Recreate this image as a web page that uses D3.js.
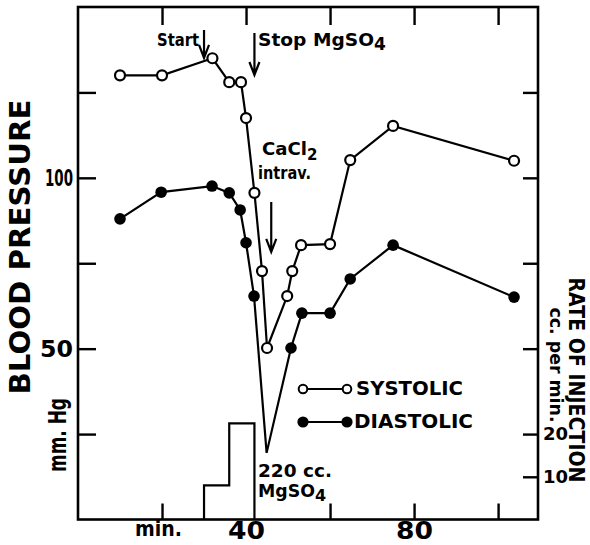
<!DOCTYPE html>
<html>
<head>
<meta charset="utf-8">
<script src="https://cdn.jsdelivr.net/npm/d3@7"></script>
<style>
body { margin: 0; background: #fff; }
text { font-family: "DejaVu Sans", sans-serif; font-weight: bold; fill: #000; }
</style>
</head>
<body>
<div id="chart-area"></div>
<script>
// data (time in min, pressure in mm Hg)
const systolicTime  = [10, 20, 32, 36, 38.8, 40, 42, 43.8, 45, 49.8, 51, 53.1, 60, 64.8, 75, 103.8];
const systolicValue = [130, 130, 135, 128, 128, 117.5, 95.6, 72.7, 50.2, 65.4, 72.7, 80.3, 80.6, 105.2, 115.2, 105];

const diastolicTime  = [10, 19.8, 31.9, 36, 38.6, 40, 41.9, 44.9, 50.7, 53.3, 60, 64.8, 75, 103.8];
const diastolicValue = [88, 95.8, 97.6, 95.6, 90.6, 81, 65.4, 19.5, 50.2, 60.4, 60.4, 70.4, 80.3, 65.1];
const diastolicNoDot = [44.9];   // bottom of the dip has no marker

// injection rate, cc per min
const injectionStart = [30, 36];
const injectionEnd   = [36, 42];
const injectionRate  = [8, 22.5];

const bpTicks = [25, 50, 75, 100, 125];
const bpLabels = [50, 100];
const timeTicks = [20, 40, 60, 80, 100];
const timeLabels = {20: "min.", 40: "40", 60: "", 80: "80", 100: ""};
const rateTicks = [10, 20, 40, 60, 80, 100];
const rateLabels = [10, 20];

let width = 590,
	height = 545;

let svg = d3.select("#chart-area")
	.append("svg")
	.attr("width", width)
	.attr("height", height);

let xScale = d3.scaleLinear().domain([0, 109.5]).range([78, 538]);
let yScale = d3.scaleLinear().domain([0, 150]).range([519.5, 7]);
let rateScale = d3.scaleLinear().domain([0, 120]).range([519.5, 7]);

// frame
svg.append("rect")
	.attr("x", xScale(0))
	.attr("y", yScale(150))
	.attr("width", xScale(109.5) - xScale(0))
	.attr("height", yScale(0) - yScale(150))
	.attr("fill", "none")
	.attr("stroke", "#000")
	.attr("stroke-width", 2.6);

function styleAxis(g, size) {
	g.select(".domain").remove();
	g.selectAll(".tick line").attr("stroke", "#000").attr("stroke-width", 2.4);
	g.selectAll("text").attr("font-size", size);
}

// left axis
let leftAxis = svg.append("g")
	.attr("transform", "translate(" + xScale(0) + ",0)")
	.call(d3.axisLeft(yScale).tickValues(bpTicks).tickSize(-18).tickPadding(5)
		.tickFormat(d => bpLabels.includes(d) ? d : ""));
styleAxis(leftAxis, 23);
leftAxis.selectAll("text")
	.filter(d => bpLabels.includes(d))
	.attr("textLength", d => d == 100 ? 28 : 33)
	.attr("lengthAdjust", "spacingAndGlyphs");

// top ticks
let topAxis = svg.append("g")
	.attr("transform", "translate(0," + yScale(150) + ")")
	.call(d3.axisTop(xScale).tickValues(timeTicks).tickSize(-18).tickFormat(""));
styleAxis(topAxis, 10);

// bottom axis
let bottomAxis = svg.append("g")
	.attr("transform", "translate(0," + yScale(0) + ")")
	.call(d3.axisBottom(xScale).tickValues(timeTicks).tickSize(-16).tickPadding(2)
		.tickFormat(d => timeLabels[d]));
styleAxis(bottomAxis, 25);
bottomAxis.selectAll(".tick").filter(d => d == 40).select("line").remove();
bottomAxis.selectAll("text").filter(d => d == 40 || d == 80)
	.attr("textLength", 37)
	.attr("lengthAdjust", "spacingAndGlyphs");
bottomAxis.selectAll("text").filter(d => d == 20)
	.attr("font-size", 21)
	.attr("x", -4)
	.attr("dy", "0.68em")
	.attr("textLength", 47)
	.attr("lengthAdjust", "spacingAndGlyphs");

// right axis (rate of injection)
let rightAxis = svg.append("g")
	.attr("transform", "translate(" + xScale(109.5) + ",0)")
	.call(d3.axisRight(rateScale).tickValues(rateTicks).tickSize(-15).tickPadding(5)
		.tickFormat(d => rateLabels.includes(d) ? d : ""));
styleAxis(rightAxis, 18);

// injection histogram
let steps = [];
injectionRate.forEach((r, i) => {
	steps.push([injectionStart[i], i == 0 ? 0 : injectionRate[i - 1]]);
	steps.push([injectionStart[i], r]);
	steps.push([injectionEnd[i], r]);
});
steps.push([injectionEnd[injectionEnd.length - 1], 0]);

svg.append("path")
	.attr("d", d3.line().x(d => xScale(d[0])).y(d => rateScale(d[1]))(steps))
	.attr("fill", "none")
	.attr("stroke", "#000")
	.attr("stroke-width", 2.2);

// series
let systolic = systolicTime.map((t, i) => ({t: t, v: systolicValue[i]}));
let diastolic = diastolicTime.map((t, i) => ({t: t, v: diastolicValue[i]}));

let line = d3.line().x(d => xScale(d.t)).y(d => yScale(d.v));

[systolic, diastolic].forEach(s => {
	svg.append("path")
		.attr("d", line(s))
		.attr("fill", "none")
		.attr("stroke", "#000")
		.attr("stroke-width", 2.2);
});

svg.selectAll("circle.dia")
	.data(diastolic.filter(d => !diastolicNoDot.includes(d.t)))
	.enter()
	.append("circle")
	.attr("class", "dia")
	.attr("r", 5.8)
	.attr("cx", d => xScale(d.t))
	.attr("cy", d => yScale(d.v))
	.attr("fill", "#000");

svg.selectAll("circle.sys")
	.data(systolic)
	.enter()
	.append("circle")
	.attr("class", "sys")
	.attr("r", 5)
	.attr("cx", d => xScale(d.t))
	.attr("cy", d => yScale(d.v))
	.attr("fill", "#fff")
	.attr("stroke", "#000")
	.attr("stroke-width", 2.2);

// arrows
const arrows = [
	{t: 30, from: 143.3, to: 135.1},
	{t: 42, from: 142.4, to: 130.1},
	{t: 46, from: 92.9, to: 78.3}
];
arrows.forEach(a => {
	let ax = xScale(a.t), y1 = yScale(a.from), y2 = yScale(a.to);
	svg.append("path")
		.attr("d", "M" + ax + "," + y1 + "V" + y2 + "M" + (ax - 5) + "," + (y2 - 13) + "L" + ax + "," + y2 + "L" + (ax + 5) + "," + (y2 - 13))
		.attr("fill", "none")
		.attr("stroke", "#000")
		.attr("stroke-width", 2.2);
});

// labels
function label(txt, x, y, size, len) {
	let t = svg.append("text").attr("x", x).attr("y", y).attr("font-size", size).text(txt);
	if (len) t.attr("textLength", len).attr("lengthAdjust", "spacingAndGlyphs");
	return t;
}
function withSub(main, sub, x, y, size, len, subSize, subDy) {
	let t = svg.append("text").attr("x", x).attr("y", y).attr("font-size", size);
	t.append("tspan").text(main).attr("textLength", len).attr("lengthAdjust", "spacingAndGlyphs");
	t.append("tspan").text(sub).attr("dy", subDy).attr("font-size", subSize);
	return t;
}

label("Start", 157, 46, 18, 42);
withSub("Stop MgSO", "4", 258, 46, 18, 116, 17, 4);
withSub("CaCl", "2", 262, 155, 17, 45, 15, 5);
label("intrav.", 258, 179, 17, 53);
label("220 cc.", 258, 477, 17, 74);
withSub("MgSO", "4", 258, 497, 17, 57, 16, 4);

// legend
const legendY = [389, 422];
[0, 1].forEach(i => {
	let ly = legendY[i];
	svg.append("line")
		.attr("x1", 303).attr("x2", 347)
		.attr("y1", ly).attr("y2", ly)
		.attr("stroke", "#000").attr("stroke-width", 2.2);
	[303, 347].forEach(cx => {
		svg.append("circle")
			.attr("cx", cx).attr("cy", ly)
			.attr("r", i == 0 ? 4.3 : 5.6)
			.attr("fill", i == 0 ? "#fff" : "#000")
			.attr("stroke", "#000")
			.attr("stroke-width", i == 0 ? 2 : 0);
	});
});
label("SYSTOLIC", 356, 395, 20, 107);
label("DIASTOLIC", 354, 428, 20, 119);

// axis titles
svg.append("text")
	.attr("transform", "translate(30,247) rotate(-90)")
	.attr("text-anchor", "middle")
	.attr("font-size", 28)
	.attr("textLength", 295)
	.attr("lengthAdjust", "spacingAndGlyphs")
	.text("BLOOD PRESSURE");

svg.append("text")
	.attr("transform", "translate(66,435) rotate(-90)")
	.attr("text-anchor", "middle")
	.attr("font-size", 24)
	.attr("textLength", 74)
	.attr("lengthAdjust", "spacingAndGlyphs")
	.text("mm. Hg");

svg.append("text")
	.attr("transform", "translate(569,380) rotate(90)")
	.attr("text-anchor", "middle")
	.attr("font-size", 21)
	.attr("textLength", 205)
	.attr("lengthAdjust", "spacingAndGlyphs")
	.text("RATE OF INJECTION");

svg.append("text")
	.attr("transform", "translate(550,365) rotate(90)")
	.attr("text-anchor", "middle")
	.attr("font-size", 18)
	.attr("textLength", 115)
	.attr("lengthAdjust", "spacingAndGlyphs")
	.text("cc. per min.");
</script>
</body>
</html>
